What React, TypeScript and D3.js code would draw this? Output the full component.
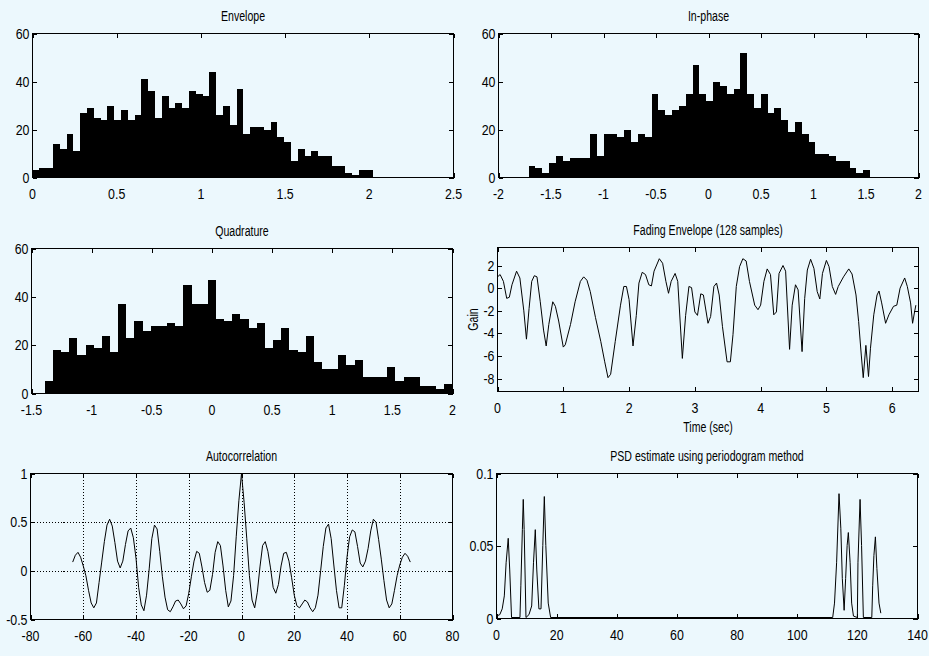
import React, { useEffect } from 'react';
import * as d3 from 'd3';

// ---------------- DATA ----------------
const envelopeCounts = [3, 4, 4, 14, 12, 18, 11, 27, 29, 25, 24, 30, 24, 28, 24, 26, 41, 36, 25, 34, 29, 31, 29, 36, 35, 34, 44, 26, 30, 22, 37, 18, 21, 21, 20, 23, 17, 15, 7, 12, 9, 11, 9, 9, 5, 5, 2, 1, 3, 3];
const envelopeRange = [0, 2.02];
const envelopeXTicks = [0, 0.5, 1, 1.5, 2, 2.5];

const inphaseCounts = [5, 4, 2, 6, 9, 7, 8, 8, 8, 18, 9, 18, 18, 17, 20, 15, 18, 17, 35, 28, 26, 28, 30, 35, 47, 35, 32, 40, 38, 35, 37, 52, 35, 29, 35, 27, 29, 24, 19, 23, 18, 15, 10, 10, 9, 7, 7, 4, 2, 3];
const inphaseRange = [-1.713, 1.539];
const inphaseXTicks = [-2, -1.5, -1, -0.5, 0, 0.5, 1, 1.5, 2];

const quadratureCounts = [5, 18, 17, 23, 16, 20, 19, 24, 17, 37, 23, 30, 26, 28, 28, 29, 28, 45, 37, 37, 47, 31, 30, 33, 31, 27, 29, 19, 22, 27, 18, 17, 24, 13, 10, 10, 16, 12, 14, 7, 7, 7, 11, 5, 7, 7, 3, 3, 2, 4];
const quadratureRange = [-1.39, 2.0];
const quadratureXTicks = [-1.5, -1, -0.5, 0, 0.5, 1, 1.5, 2];

const histYTicks = [0, 20, 40, 60];

const fadingTime = [0.00, 0.04, 0.09, 0.14, 0.18, 0.22, 0.29, 0.34, 0.40, 0.44, 0.48, 0.52, 0.56, 0.60, 0.65, 0.70, 0.74, 0.78, 0.84, 0.88, 0.93, 1.00, 1.03, 1.11, 1.18, 1.26, 1.31, 1.36, 1.41, 1.49, 1.57, 1.63, 1.68, 1.72, 1.79, 1.87, 1.92, 1.96, 2.00, 2.06, 2.11, 2.15, 2.20, 2.25, 2.30, 2.34, 2.38, 2.46, 2.51, 2.56, 2.60, 2.64, 2.70, 2.74, 2.81, 2.86, 2.91, 2.95, 3.00, 3.04, 3.09, 3.13, 3.20, 3.24, 3.29, 3.33, 3.37, 3.42, 3.49, 3.54, 3.58, 3.63, 3.68, 3.73, 3.78, 3.83, 3.91, 3.96, 4.00, 4.05, 4.10, 4.15, 4.20, 4.24, 4.28, 4.34, 4.38, 4.44, 4.48, 4.53, 4.57, 4.63, 4.67, 4.71, 4.76, 4.81, 4.86, 4.90, 4.94, 5.00, 5.04, 5.09, 5.14, 5.18, 5.26, 5.34, 5.39, 5.45, 5.49, 5.53, 5.56, 5.60, 5.64, 5.67, 5.72, 5.77, 5.80, 5.84, 5.90, 5.95, 6.02, 6.07, 6.12, 6.19, 6.23, 6.28, 6.31, 6.34, 6.36];
const fadingGain = [1.0, 1.2, 0.6, -0.9, -0.8, 0.3, 1.5, 0.9, -2.0, -4.5, -1.8, 0.6, 1.1, 1.0, -1.2, -3.7, -5.1, -3.2, -1.2, -1.6, -2.9, -5.2, -5.0, -3.2, -1.2, 0.6, 1.0, 0.7, -0.3, -2.6, -4.7, -6.5, -7.9, -7.6, -4.7, -1.5, 0.15, 0.15, -1.0, -5.1, -2.4, 0.45, 1.4, 1.2, 0.3, 0.2, 1.5, 2.6, 2.2, 0.6, -0.45, 0.6, 1.3, 0.6, -6.2, -2.4, 0.15, 0.05, -2.1, -2.4, -0.5, -0.6, -3.1, -2.5, 0.15, 0.45, -0.6, -3.4, -6.5, -6.5, -4.1, 0.15, 1.9, 2.6, 2.4, 0.6, -1.5, -1.9, -1.5, 0.6, 1.7, 1.2, -2.35, -2.1, 1.3, 2.0, 1.5, -5.4, -1.5, 0.3, -0.15, -5.6, -0.9, 1.6, 2.55, 1.75, -0.3, -0.95, 1.3, 2.45, 1.9, 0.15, -0.55, 0.15, 1.0, 1.7, 1.25, -0.6, -2.95, -5.9, -7.9, -5.05, -7.8, -5.3, -2.35, -0.6, -0.25, -1.3, -3.1, -2.35, -1.6, -1.5, 0.0, 0.9, 0.15, -1.3, -3.1, -2.1, -1.5];
const fadingXTicks = [0, 1, 2, 3, 4, 5, 6];
const fadingYTicks = [-8, -6, -4, -2, 0, 2];

const acfLags = d3.range(-64, 65);
const acfValues = [
  0.09, 0.16, 0.19, 0.14, 0.05, -0.05, -0.2, -0.33, -0.38, -0.33, -0.12, 0.09, 0.3, 0.47, 0.53, 0.46,
  0.29, 0.1, 0.03, 0.1, 0.27, 0.41, 0.44, 0.34, 0.13, -0.17, -0.35, -0.41, -0.25, 0.02, 0.33, 0.47,
  0.43, 0.2, -0.06, -0.27, -0.4, -0.42, -0.37, -0.31, -0.3, -0.34, -0.39, -0.36, -0.23, -0.06, 0.1, 0.2,
  0.18, 0.04, -0.12, -0.22, -0.2, -0.04, 0.19, 0.3, 0.26, 0.05, -0.2, -0.37, -0.31, -0.05, 0.35, 0.72,
  1.0,
  0.7, 0.33, -0.05, -0.3, -0.38, -0.22, 0.04, 0.26, 0.3, 0.2, 0.03, -0.17, -0.23, -0.14, 0.05, 0.18,
  0.19, 0.1, -0.07, -0.25, -0.36, -0.38, -0.34, -0.3, -0.32, -0.38, -0.42, -0.38, -0.25, 0.0, 0.25, 0.44,
  0.48, 0.33, 0.06, -0.2, -0.38, -0.38, -0.15, 0.14, 0.35, 0.42, 0.4, 0.25, 0.08, 0.04, 0.1, 0.23,
  0.41, 0.53, 0.5, 0.32, 0.12, -0.1, -0.3, -0.38, -0.34, -0.2, -0.05, 0.06, 0.14, 0.18, 0.15, 0.09,
];
const acfXTicks = [-80, -60, -40, -20, 0, 20, 40, 60, 80];
const acfYTicks = [-0.5, 0, 0.5, 1];

const psdFreq = [0, 1.1, 1.9, 2.6, 3.2, 3.9, 4.4, 5.0, 7.8, 8.1, 8.6, 8.9, 9.2, 9.8, 10.8, 11.7, 12.3, 12.9, 13.4, 14.1, 14.8, 15.4, 15.9, 16.4, 17.2, 18.0, 111.8, 112.4, 113.1, 113.9, 114.5, 115.0, 115.6, 116.1, 116.6, 117.0, 117.6, 118.1, 118.7, 120.0, 120.2, 120.9, 121.4, 122.0, 124.8, 125.1, 125.5, 126.0, 126.5, 127.2, 127.8];
const psdValue = [0.001, 0.002, 0.006, 0.015, 0.038, 0.055, 0.033, 0.0, 0.0, 0.022, 0.061, 0.082, 0.061, 0.0, 0.002, 0.008, 0.038, 0.061, 0.033, 0.006, 0.006, 0.05, 0.084, 0.05, 0.01, 0.0, 0.0, 0.01, 0.038, 0.086, 0.062, 0.027, 0.005, 0.027, 0.05, 0.059, 0.038, 0.01, 0.001, 0.0, 0.038, 0.082, 0.05, 0.0, 0.0, 0.022, 0.043, 0.056, 0.034, 0.01, 0.003];
const psdXTicks = [0, 20, 40, 60, 80, 100, 120, 140];
const psdYTicks = [0, 0.05, 0.1];

// ---------------- STYLE ----------------
const BG = '#ECF8FD';
const FONT = "'Liberation Sans', Arial, Helvetica, sans-serif";
const TICK_FS = 15.5;
const TICK_SX = 0.8;
const TITLE_FS = 14.5;
const TITLE_SX = 0.73;
const TICK = 4.5;

type Box = { l: number; t: number; r: number; b: number };

const fmt = (v: number) => String(+v.toFixed(3));

function Txt({ x, y, size, sx, anchor = 'middle', rotate = 0, children }: any) {
  return (
    <g transform={`translate(${x},${y}) rotate(${rotate}) scale(${sx},1)`}>
      <text x={0} y={0} fontSize={size} textAnchor={anchor} fontFamily={FONT} fill="#000">
        {children}
      </text>
    </g>
  );
}

function Frame({ box, xs, ys, xTicks, yTicks, title, xlabel, ylabel, grid, children }: any) {
  const { l, t, r, b } = box as Box;
  return (
    <g>
      {grid && (
        <g stroke="#000" strokeWidth={1} strokeDasharray="1,2" shapeRendering="crispEdges">
          {xTicks.slice(1, -1).map((v: number) => (
            <line key={'gx' + v} x1={Math.round(xs(v)) + 0.5} x2={Math.round(xs(v)) + 0.5} y1={t} y2={b} />
          ))}
          {yTicks.slice(1, -1).map((v: number) => (
            <line key={'gy' + v} x1={l} x2={r} y1={Math.round(ys(v)) + 0.5} y2={Math.round(ys(v)) + 0.5} />
          ))}
        </g>
      )}
      {children}
      <g stroke="#000" strokeWidth={1} shapeRendering="crispEdges" fill="none">
        <rect x={l} y={t} width={r - l} height={b - t} />
        {xTicks.map((v: number) => {
          const x = Math.round(xs(v)) + 0.5;
          return (
            <g key={'tx' + v}>
              <line x1={x} x2={x} y1={b} y2={b - TICK} />
              <line x1={x} x2={x} y1={t} y2={t + TICK} />
            </g>
          );
        })}
        {yTicks.map((v: number) => {
          const y = Math.round(ys(v)) + 0.5;
          return (
            <g key={'ty' + v}>
              <line x1={l} x2={l + TICK} y1={y} y2={y} />
              <line x1={r} x2={r - TICK} y1={y} y2={y} />
            </g>
          );
        })}
      </g>
      {xTicks.map((v: number) => (
        <Txt key={'lx' + v} x={xs(v)} y={b + 21} size={TICK_FS} sx={TICK_SX}>{fmt(v)}</Txt>
      ))}
      {yTicks.map((v: number) => (
        <Txt key={'ly' + v} x={l - 3} y={ys(v) + 5} size={TICK_FS} sx={TICK_SX} anchor="end">{fmt(v)}</Txt>
      ))}
      {title && <Txt x={(l + r) / 2} y={t - 13} size={TITLE_FS} sx={TITLE_SX}>{title}</Txt>}
      {xlabel && <Txt x={(l + r) / 2} y={b + 40} size={TITLE_FS} sx={TITLE_SX}>{xlabel}</Txt>}
      {ylabel && <Txt x={l - 19.5} y={(t + b) / 2} size={TITLE_FS} sx={TITLE_SX} rotate={-90}>{ylabel}</Txt>}
    </g>
  );
}

function Hist({ box, counts, range, xDomain, xTicks, title }: any) {
  const { l, t, r, b } = box as Box;
  const xs = d3.scaleLinear().domain(xDomain).range([l, r]);
  const ys = d3.scaleLinear().domain([0, 60]).range([b, t]);
  const n = counts.length;
  const w = (range[1] - range[0]) / n;
  const edges = d3.range(n + 1).map((i) => range[0] + i * w);
  return (
    <Frame box={box} xs={xs} ys={ys} xTicks={xTicks} yTicks={histYTicks} title={title}>
      <g fill="#000" shapeRendering="crispEdges">
        {counts.map((c: number, i: number) => {
          const x0 = xs(edges[i]);
          const x1 = xs(edges[i + 1]);
          return <rect key={i} x={x0} y={ys(c)} width={Math.max(0, x1 - x0)} height={ys(0) - ys(c)} />;
        })}
      </g>
    </Frame>
  );
}

function LinePanel({ box, xv, yv, xDomain, yDomain, xTicks, yTicks, title, xlabel, ylabel, grid, lift = 0 }: any) {
  const { l, t, r, b } = box as Box;
  const xs = d3.scaleLinear().domain(xDomain).range([l, r]);
  const ys = d3.scaleLinear().domain(yDomain).range([b, t]);
  const yd = d3.scaleLinear().domain(yDomain).range([b - lift, t]);
  const pts: [number, number][] = xv.map((x: number, i: number) => [x, yv[i]]);
  const path = d3
    .line<[number, number]>()
    .x((d) => xs(d[0]))
    .y((d) => yd(d[1]))(pts) as string;
  return (
    <Frame box={box} xs={xs} ys={ys} xTicks={xTicks} yTicks={yTicks} title={title} xlabel={xlabel} ylabel={ylabel} grid={grid}>
      <path d={path} fill="none" stroke="#000" strokeWidth={1} strokeLinejoin="round" />
    </Frame>
  );
}

export default function App() {
  useEffect(() => {
    document.body.style.margin = '0';
    document.body.style.background = BG;
  }, []);
  const W = 929;
  const H = 656;
  return (
    <svg width={W} height={H} style={{ position: 'absolute', left: 0, top: 0, display: 'block' }}>
      <rect x={0} y={0} width={W} height={H} fill={BG} />
      <Hist box={{ l: 32.5, t: 33.5, r: 453.5, b: 177.5 }} counts={envelopeCounts} range={envelopeRange} xDomain={[0, 2.5]} xTicks={envelopeXTicks} title="Envelope" />
      <Hist box={{ l: 498.5, t: 33.5, r: 918.5, b: 177.5 }} counts={inphaseCounts} range={inphaseRange} xDomain={[-2, 2]} xTicks={inphaseXTicks} title="In-phase" />
      <Hist box={{ l: 31.5, t: 248.5, r: 452.5, b: 393.5 }} counts={quadratureCounts} range={quadratureRange} xDomain={[-1.5, 2]} xTicks={quadratureXTicks} title="Quadrature" />
      <LinePanel
        box={{ l: 497.5, t: 247.5, r: 918.5, b: 391.5 }}
        xv={fadingTime}
        yv={fadingGain}
        xDomain={[0, 6.4]}
        yDomain={[-9.12, 3.59]}
        xTicks={fadingXTicks}
        yTicks={fadingYTicks}
        title="Fading Envelope (128 samples)"
        xlabel="Time (sec)"
        ylabel="Gain"
      />
      <LinePanel
        box={{ l: 30.5, t: 473.5, r: 452.5, b: 619.5 }}
        xv={acfLags}
        yv={acfValues}
        xDomain={[-80, 80]}
        yDomain={[-0.5, 1]}
        xTicks={acfXTicks}
        yTicks={acfYTicks}
        title="Autocorrelation"
        grid
      />
      <LinePanel
        box={{ l: 496.5, t: 473.5, r: 917.5, b: 618.5 }}
        xv={psdFreq}
        yv={psdValue}
        xDomain={[0, 140]}
        yDomain={[0, 0.1]}
        xTicks={psdXTicks}
        yTicks={psdYTicks}
        title="PSD estimate using periodogram method"
        lift={1}
      />
    </svg>
  );
}
